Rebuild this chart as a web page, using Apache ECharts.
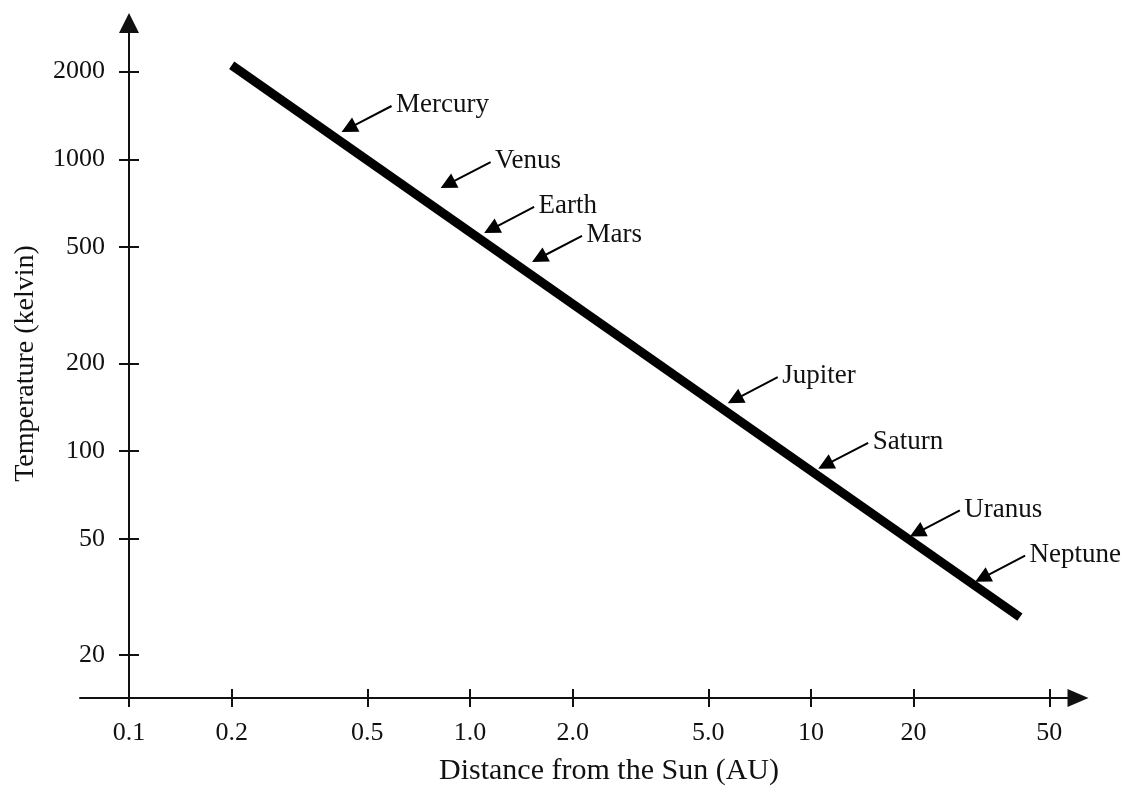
<!DOCTYPE html>
<html>
<head>
<meta charset="utf-8">
<script src="https://cdn.jsdelivr.net/npm/echarts@6/dist/echarts.min.js"></script>
<style>
  html, body { margin: 0; padding: 0; background: #fff; }
  #main { width: 1129px; height: 786px; }
</style>
</head>
<body>
<div id="main"></div>
<script>
var xTickValues = [0.1, 0.2, 0.5, 1, 2, 5, 10, 20, 50];
var xTickLabels = ['0.1', '0.2', '0.5', '1.0', '2.0', '5.0', '10', '20', '50'];
var yTickValues = [20, 50, 100, 200, 500, 1000, 2000];

// the thick trend line (AU, kelvin)
var lineDistance = [0.2, 41];
var lineTemp = [2100, 27];

// where each arrow points
var planets = ['Mercury', 'Venus', 'Earth', 'Mars', 'Jupiter', 'Saturn', 'Uranus', 'Neptune'];
var planetDistance = [0.42, 0.82, 1.1, 1.52, 5.7, 10.5, 19.5, 30.3];
var planetTemp = [1240, 797, 559, 445, 146, 87, 51, 35.7];

var font = "'Liberation Serif', 'DejaVu Serif', serif";
// arrow: tip bottom-left, tail up to the right
var arrowPath = 'path://M0 26.89 L17.88 26.61 L14.65 20.4 L50.46 1.78 L49.54 0 L13.73 18.62 L10.5 12.41 Z';
var arrowW = 50.46, arrowH = 26.89;

var lineData = [];
for (var i = 0; i < lineDistance.length; i++) {
  lineData.push([lineDistance[i], lineTemp[i]]);
}
var planetData = [];
for (var j = 0; j < planets.length; j++) {
  planetData.push({ name: planets[j], value: [planetDistance[j], planetTemp[j]] });
}

function xLabel(v) {
  for (var k = 0; k < xTickValues.length; k++) {
    if (Math.abs(xTickValues[k] - v) < 1e-6) return xTickLabels[k];
  }
  return '';
}

var xCommon = {
  type: 'log',
  logBase: 10,
  min: 0.0718,
  max: 60.7,
  position: 'bottom',
  offset: -6,
  splitLine: { show: false }
};
var yCommon = {
  type: 'log',
  logBase: 10,
  min: 13.6,
  max: 2930,
  position: 'left',
  offset: -49,
  splitLine: { show: false }
};

var chart = echarts.init(document.getElementById('main'));
chart.setOption({
  backgroundColor: '#fff',
  animation: false,
  grid: { left: 80, right: 51, top: 23, bottom: 82, containLabel: false, outerBoundsMode: 'none' },
  xAxis: [
    Object.assign({}, xCommon, {
      name: 'Distance from the Sun (AU)',
      nameLocation: 'middle',
      nameGap: 58,
      nameTextStyle: { fontFamily: font, fontSize: 30, color: '#111', padding: [0, 0, 0, 60] },
      axisLine: {
        show: true,
        lineStyle: { color: '#111', width: 2 },
        symbol: ['none', 'triangle'],
        symbolSize: [18, 21]
      },
      axisTick: { show: true, customValues: xTickValues, length: 9, lineStyle: { color: '#111', width: 2 } },
      axisLabel: {
        show: true,
        customValues: xTickValues,
        margin: 22,
        fontFamily: font,
        fontSize: 26,
        color: '#111',
        formatter: xLabel
      }
    }),
    Object.assign({}, xCommon, {
      axisLine: { show: false },
      axisTick: { show: true, inside: true, customValues: xTickValues, length: 9, lineStyle: { color: '#111', width: 2 } },
      axisLabel: { show: false }
    })
  ],
  yAxis: [
    Object.assign({}, yCommon, {
      name: 'Temperature (kelvin)',
      nameLocation: 'middle',
      nameGap: 89,
      nameRotate: 90,
      nameTextStyle: { fontFamily: font, fontSize: 28, color: '#111' },
      axisLine: {
        show: true,
        lineStyle: { color: '#111', width: 2 },
        symbol: ['none', 'triangle'],
        symbolSize: [20, 20]
      },
      axisTick: { show: true, customValues: yTickValues, length: 10, lineStyle: { color: '#111', width: 2 } },
      axisLabel: {
        show: true,
        customValues: yTickValues,
        margin: 24,
        fontFamily: font,
        fontSize: 26,
        color: '#111',
        formatter: function (v) { return String(Math.round(v)); }
      }
    }),
    Object.assign({}, yCommon, {
      axisLine: { show: false },
      axisTick: { show: true, inside: true, customValues: yTickValues, length: 10, lineStyle: { color: '#111', width: 2 } },
      axisLabel: { show: false }
    })
  ],
  series: [
    {
      type: 'line',
      data: lineData,
      symbol: 'none',
      silent: true,
      lineStyle: { color: '#000', width: 9 }
    },
    {
      type: 'scatter',
      data: planetData,
      symbol: arrowPath,
      symbolSize: [arrowW, arrowH],
      symbolOffset: [arrowW / 2, -arrowH / 2],
      itemStyle: { color: '#000', opacity: 1 },
      silent: true,
      label: {
        show: true,
        position: [arrowW + 4, 0],
        align: 'left',
        verticalAlign: 'middle',
        formatter: '{b}',
        fontFamily: font,
        fontSize: 27,
        color: '#111'
      }
    }
  ]
});
</script>
</body>
</html>
